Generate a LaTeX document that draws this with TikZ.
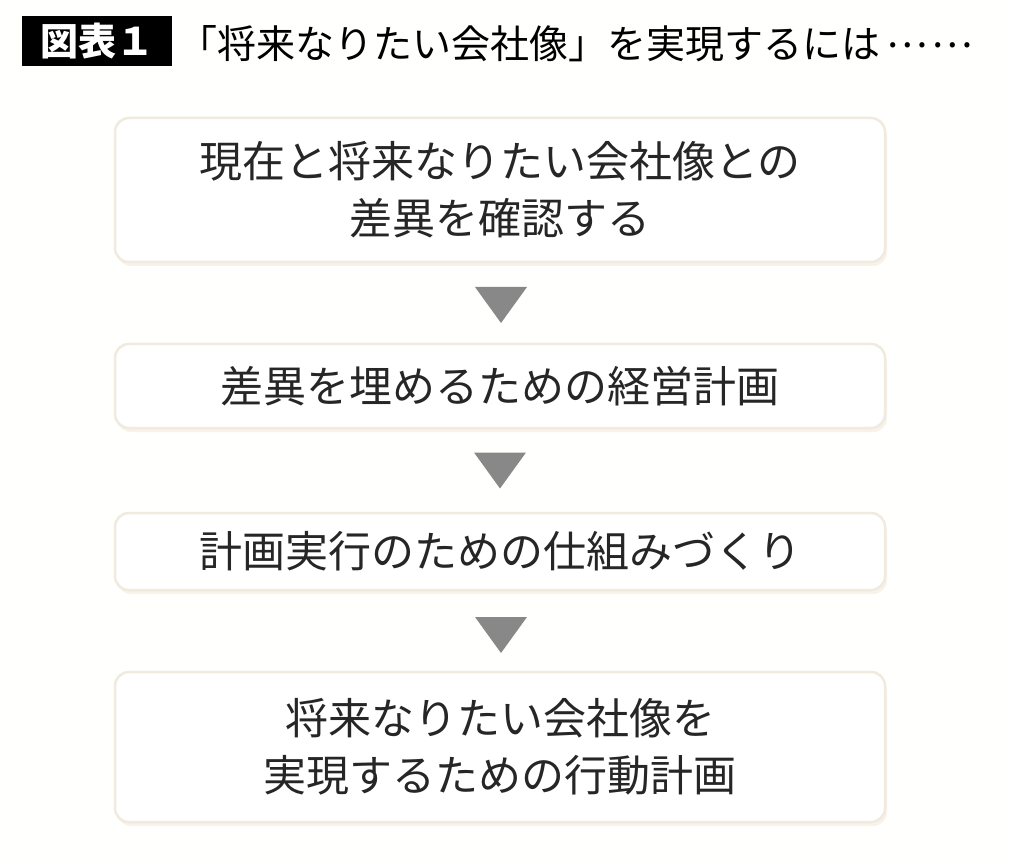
\documentclass[tikz,border=0pt]{standalone}
\usepackage{fontspec}
\newfontfamily\cjk{Noto Sans CJK JP}
\usetikzlibrary{calc}
\definecolor{bgc}{HTML}{FFFFFD}
\definecolor{edgec}{HTML}{F0EADF}
\definecolor{shadc}{HTML}{F7F2EA}
\definecolor{tric}{HTML}{888888}
\definecolor{txtc}{HTML}{262626}
\tikzset{
  stepbox/.style={rectangle, rounded corners=14pt, fill=white, draw=edgec, line width=2.5pt,
    minimum width=770pt, align=center, text=txtc, inner sep=0pt,
    font=\cjk\fontsize{43}{57}\selectfont,
    preaction={fill=shadc, transform canvas={shift={(2pt,-4pt)}}}},
  tri/.style={fill=tric}
}
\begin{document}
\begin{tikzpicture}[x=1pt,y=-1pt]
\useasboundingbox (0,0) rectangle (1012,866);
\fill[bgc] (0,0) rectangle (1012,866);
% title
\node[fill=black, minimum width=150pt, minimum height=50pt, inner sep=0pt, anchor=north west,
  text=white, font=\cjk\bfseries\fontsize{38}{38}\selectfont] (tag) at (22,16) {図表１};
\node[anchor=west, inner sep=0pt, text=black, font=\cjk\fontsize{39}{39}\selectfont] (title) at (178,44) {「将来なりたい会社像」を実現するには\hspace{0.15em}\raisebox{0.3em}{…\hspace{0.1em}…}};
% boxes
\node[stepbox, minimum height=144pt] (b1) at (500,190) {現在と将来なりたい会社像との\\差異を確認する};
\node[stepbox, minimum height=84pt] (b2) at (500,386) {差異を埋めるための経営計画};
\node[stepbox, minimum height=77pt] (b3) at (500,551.5) {計画実行のための仕組みづくり};
\node[stepbox, minimum height=150pt] (b4) at (500,747) {将来なりたい会社像を\\実現するための行動計画};
% triangles
\coordinate (t1) at ($(b1.south)!0.5!(b2.north)+(1,2)$);
\coordinate (t2) at ($(b2.south)!0.5!(b3.north)$);
\coordinate (t3) at ($(b3.south)!0.5!(b4.north)+(1,4)$);
\foreach \t in {t1,t2,t3}{
  \fill[tri] ([shift={(-26,-18)}]\t) -- ([shift={(26,-18)}]\t) -- ([shift={(0,18)}]\t) -- cycle;
}
\end{tikzpicture}
\end{document}
